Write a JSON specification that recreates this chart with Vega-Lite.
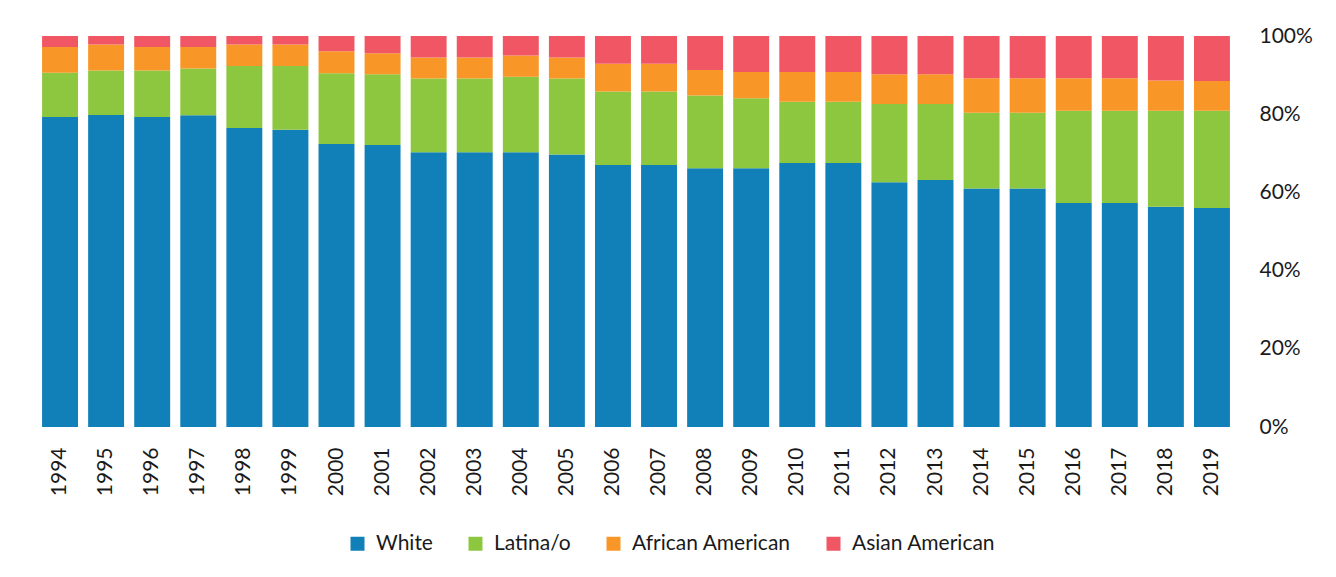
{
  "$schema": "https://vega.github.io/schema/vega-lite/v6.json",
  "width": 1198,
  "height": 391,
  "autosize": {"type": "none"},
  "padding": {"left": 37, "top": 36, "right": 101, "bottom": 150},
  "background": "white",
  "config": {
    "view": {"stroke": null},
    "font": "Lato",
    "axis": {"labelFont": "Lato", "labelColor": "#1a1a1a", "labelFontSize": 21, "labelFontWeight": "normal"},
    "legend": {"labelFont": "Lato", "labelColor": "#1a1a1a", "labelFontSize": 21, "labelFontWeight": "normal"}
  },
  "data": {
    "values": [
      {"year": "1994", "group": "White", "share": 79.3}, {"year": "1994", "group": "Latina/o", "share": 11.3}, {"year": "1994", "group": "African American", "share": 6.6}, {"year": "1994", "group": "Asian American", "share": 2.8},
      {"year": "1995", "group": "White", "share": 79.8}, {"year": "1995", "group": "Latina/o", "share": 11.4}, {"year": "1995", "group": "African American", "share": 6.6}, {"year": "1995", "group": "Asian American", "share": 2.2},
      {"year": "1996", "group": "White", "share": 79.3}, {"year": "1996", "group": "Latina/o", "share": 11.9}, {"year": "1996", "group": "African American", "share": 6.0}, {"year": "1996", "group": "Asian American", "share": 2.8},
      {"year": "1997", "group": "White", "share": 79.7}, {"year": "1997", "group": "Latina/o", "share": 12.0}, {"year": "1997", "group": "African American", "share": 5.5}, {"year": "1997", "group": "Asian American", "share": 2.8},
      {"year": "1998", "group": "White", "share": 76.5}, {"year": "1998", "group": "Latina/o", "share": 15.8}, {"year": "1998", "group": "African American", "share": 5.5}, {"year": "1998", "group": "Asian American", "share": 2.2},
      {"year": "1999", "group": "White", "share": 76.0}, {"year": "1999", "group": "Latina/o", "share": 16.3}, {"year": "1999", "group": "African American", "share": 5.5}, {"year": "1999", "group": "Asian American", "share": 2.2},
      {"year": "2000", "group": "White", "share": 72.4}, {"year": "2000", "group": "Latina/o", "share": 18.1}, {"year": "2000", "group": "African American", "share": 5.6}, {"year": "2000", "group": "Asian American", "share": 3.9},
      {"year": "2001", "group": "White", "share": 72.1}, {"year": "2001", "group": "Latina/o", "share": 18.1}, {"year": "2001", "group": "African American", "share": 5.4}, {"year": "2001", "group": "Asian American", "share": 4.4},
      {"year": "2002", "group": "White", "share": 70.3}, {"year": "2002", "group": "Latina/o", "share": 18.8}, {"year": "2002", "group": "African American", "share": 5.4}, {"year": "2002", "group": "Asian American", "share": 5.5},
      {"year": "2003", "group": "White", "share": 70.3}, {"year": "2003", "group": "Latina/o", "share": 18.8}, {"year": "2003", "group": "African American", "share": 5.4}, {"year": "2003", "group": "Asian American", "share": 5.5},
      {"year": "2004", "group": "White", "share": 70.3}, {"year": "2004", "group": "Latina/o", "share": 19.3}, {"year": "2004", "group": "African American", "share": 5.4}, {"year": "2004", "group": "Asian American", "share": 5.0},
      {"year": "2005", "group": "White", "share": 69.7}, {"year": "2005", "group": "Latina/o", "share": 19.4}, {"year": "2005", "group": "African American", "share": 5.4}, {"year": "2005", "group": "Asian American", "share": 5.5},
      {"year": "2006", "group": "White", "share": 67.0}, {"year": "2006", "group": "Latina/o", "share": 18.8}, {"year": "2006", "group": "African American", "share": 7.1}, {"year": "2006", "group": "Asian American", "share": 7.1},
      {"year": "2007", "group": "White", "share": 67.0}, {"year": "2007", "group": "Latina/o", "share": 18.8}, {"year": "2007", "group": "African American", "share": 7.1}, {"year": "2007", "group": "Asian American", "share": 7.1},
      {"year": "2008", "group": "White", "share": 66.2}, {"year": "2008", "group": "Latina/o", "share": 18.6}, {"year": "2008", "group": "African American", "share": 6.5}, {"year": "2008", "group": "Asian American", "share": 8.7},
      {"year": "2009", "group": "White", "share": 66.2}, {"year": "2009", "group": "Latina/o", "share": 17.9}, {"year": "2009", "group": "African American", "share": 6.7}, {"year": "2009", "group": "Asian American", "share": 9.2},
      {"year": "2010", "group": "White", "share": 67.5}, {"year": "2010", "group": "Latina/o", "share": 15.7}, {"year": "2010", "group": "African American", "share": 7.6}, {"year": "2010", "group": "Asian American", "share": 9.2},
      {"year": "2011", "group": "White", "share": 67.5}, {"year": "2011", "group": "Latina/o", "share": 15.7}, {"year": "2011", "group": "African American", "share": 7.6}, {"year": "2011", "group": "Asian American", "share": 9.2},
      {"year": "2012", "group": "White", "share": 62.6}, {"year": "2012", "group": "Latina/o", "share": 20.0}, {"year": "2012", "group": "African American", "share": 7.6}, {"year": "2012", "group": "Asian American", "share": 9.8},
      {"year": "2013", "group": "White", "share": 63.2}, {"year": "2013", "group": "Latina/o", "share": 19.4}, {"year": "2013", "group": "African American", "share": 7.6}, {"year": "2013", "group": "Asian American", "share": 9.8},
      {"year": "2014", "group": "White", "share": 61.0}, {"year": "2014", "group": "Latina/o", "share": 19.4}, {"year": "2014", "group": "African American", "share": 8.8}, {"year": "2014", "group": "Asian American", "share": 10.8},
      {"year": "2015", "group": "White", "share": 61.0}, {"year": "2015", "group": "Latina/o", "share": 19.4}, {"year": "2015", "group": "African American", "share": 8.8}, {"year": "2015", "group": "Asian American", "share": 10.8},
      {"year": "2016", "group": "White", "share": 57.3}, {"year": "2016", "group": "Latina/o", "share": 23.6}, {"year": "2016", "group": "African American", "share": 8.3}, {"year": "2016", "group": "Asian American", "share": 10.8},
      {"year": "2017", "group": "White", "share": 57.3}, {"year": "2017", "group": "Latina/o", "share": 23.6}, {"year": "2017", "group": "African American", "share": 8.3}, {"year": "2017", "group": "Asian American", "share": 10.8},
      {"year": "2018", "group": "White", "share": 56.3}, {"year": "2018", "group": "Latina/o", "share": 24.6}, {"year": "2018", "group": "African American", "share": 7.7}, {"year": "2018", "group": "Asian American", "share": 11.4},
      {"year": "2019", "group": "White", "share": 56.0}, {"year": "2019", "group": "Latina/o", "share": 24.9}, {"year": "2019", "group": "African American", "share": 7.6}, {"year": "2019", "group": "Asian American", "share": 11.5}
    ]
  },
  "transform": [
    {"calculate": "indexof(['White', 'Latina/o', 'African American', 'Asian American'], datum.group)", "as": "stackOrder"}
  ],
  "mark": {"type": "bar"},
  "encoding": {
    "x": {
      "field": "year",
      "type": "ordinal",
      "scale": {"paddingInner": 0.22, "paddingOuter": 0.11},
      "axis": {"title": null, "labelAngle": -90, "ticks": false, "domain": false, "labelPadding": 20}
    },
    "y": {
      "field": "share",
      "type": "quantitative",
      "stack": "normalize",
      "axis": {"title": null, "orient": "right", "format": ".0%", "values": [0, 0.2, 0.4, 0.6, 0.8, 1], "grid": false, "ticks": false, "domain": false, "labelPadding": 24}
    },
    "order": {"field": "stackOrder", "type": "quantitative", "sort": "ascending"},
    "color": {
      "field": "group",
      "type": "nominal",
      "sort": ["White", "Latina/o", "African American", "Asian American"],
      "scale": {"domain": ["White", "Latina/o", "African American", "Asian American"], "range": ["#117FB8", "#8DC63F", "#F89627", "#F15664"]},
      "legend": {"title": null, "orient": "none", "legendX": 310, "legendY": 497, "direction": "horizontal", "symbolType": "square", "symbolSize": 196, "symbolStrokeWidth": 0, "symbolOpacity": 1, "labelOffset": 8, "columnPadding": 32}
    }
  }
}
